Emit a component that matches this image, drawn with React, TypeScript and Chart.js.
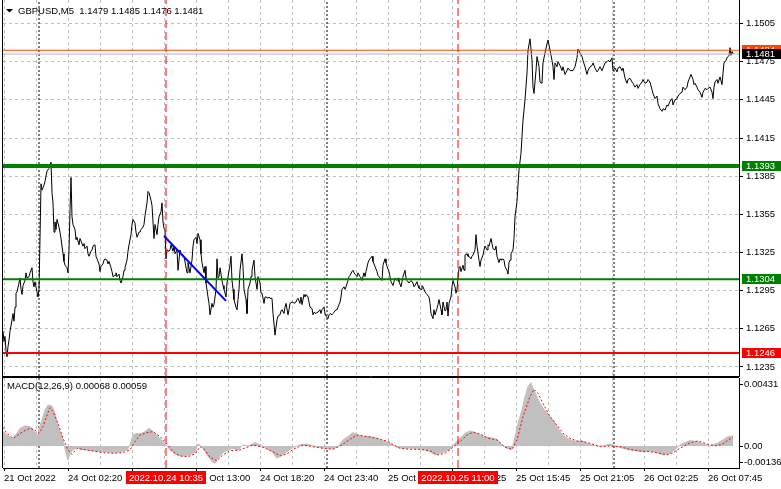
import React, { useEffect, useRef } from 'react';
import { Chart, registerables } from 'chart.js';

Chart.register(...registerables);

const FONT = '"Liberation Sans", Arial, sans-serif';
const FS = 9.5;
const W = 781;
const MAIN_H = 377;
const MACD_H = 112;

// ---------- header ----------
const symbolTitle = 'GBPUSD,M5';
const ohlc = ['1.1479', '1.1485', '1.1476', '1.1481'];

// ---------- price series (bar number from left edge, close) ----------
const priceBars = [
  -1, 0, 1, 2, 3, 4, 5, 6, 8, 9,
  10, 11, 12, 13, 15, 16, 17, 18, 19, 21,
  22, 23, 25, 26, 28, 29, 30, 31, 33, 34,
  35, 36, 37, 38, 40, 41, 42, 43, 45, 46,
  47, 48, 49, 50, 51, 52, 53, 55, 56, 57,
  59, 60, 61, 63, 64, 65, 66, 67, 68, 69,
  71, 72, 73, 75, 76, 77, 79, 80, 81, 83,
  84, 85, 87, 88, 89, 91, 92, 93, 95, 96,
  97, 99, 100, 101, 103, 104, 105, 107, 108, 109,
  111, 112, 113, 115, 116, 117, 119, 120, 121, 123,
  124, 125, 127, 128, 129, 131, 132, 133, 135, 136,
  137, 139, 140, 141, 143, 144, 145, 147, 148, 149,
  150, 151, 153, 154, 155, 157, 158, 159, 160, 161,
  162, 163, 165, 166, 167, 169, 170, 171, 173, 174,
  175, 176, 177, 179, 180, 183, 184, 186, 188, 189,
  190, 192, 193, 194, 196, 197, 198, 200, 201, 202,
  204, 205, 206, 208, 209, 210, 212, 213, 214, 215,
  216, 218, 219, 220, 222, 223, 224, 226, 227, 228,
  229, 230, 232, 233, 234, 235, 236, 238, 239, 240,
  242, 243, 244, 246, 247, 248, 250, 251, 252, 253,
  254, 256, 257, 258, 260, 261, 262, 264, 265, 266,
  268, 269, 270, 271, 273, 274, 276, 277, 278, 280,
  281, 282, 284, 285, 286, 288, 289, 290, 292, 293,
  294, 296, 297, 298, 300, 301, 302, 304, 305, 306,
  308, 309, 310, 312, 313, 314, 316, 317, 318, 320,
  321, 322, 324, 325, 326, 328, 329, 330, 332, 333,
  334, 336, 337, 338, 340, 341, 342, 344, 345, 346,
  348, 349, 350, 352, 353, 354, 356, 357, 358, 360,
  361, 362, 364, 365, 366, 368, 369, 371, 373, 374,
  376, 378, 379, 381, 382, 383, 385, 386, 387, 389,
  390, 391, 393, 394, 395, 397, 398, 399, 401, 402,
  403, 405, 406, 407, 409, 410, 411, 413, 414, 415,
  417, 418, 419, 421, 422, 423, 425, 426, 427, 429,
  430, 431, 433, 434, 435, 437, 438, 439, 441, 442,
  443, 444, 445, 447, 448, 449, 451, 452, 453, 455,
  456, 457, 459, 460, 461, 463, 464, 465, 467, 468,
  469, 471, 472, 473, 475, 476, 477, 479, 480, 481,
  483, 484, 485, 487, 488, 489, 491, 492, 493, 495,
  496, 497, 499, 500, 501, 503, 504, 505, 506, 507,
  509, 510, 511, 513, 514, 515, 517, 518, 519, 521,
  523, 524, 526, 528, 529, 530, 532, 533, 535, 536,
  538, 539, 541, 543, 544, 546, 548, 549, 550, 551,
  553, 554, 556, 558, 559, 561, 563, 564, 566, 569,
  571, 573, 574, 576, 578, 579, 581, 583, 584, 586,
  588, 589, 591, 593, 594, 596, 598, 599, 601, 603,
  604, 606, 608, 609, 611, 613, 614, 616, 618, 619,
  621, 623, 624, 626, 628, 629, 631, 633, 634, 636,
  638, 639, 641, 643, 644, 646, 648, 649, 651, 653,
  654, 656, 658, 659, 661, 663, 664, 666, 668, 669,
  671, 673, 674, 676, 678, 679, 681, 683, 684, 686,
  687, 689, 690, 691, 693, 694, 696, 698, 699, 701,
  703, 704, 706, 708, 709, 710, 711, 713, 714, 716,
  718, 719, 720, 722, 723, 725, 726, 727, 728, 729,
];
const closes = [
  1.1263, 1.1255, 1.1259, 1.1248, 1.1243, 1.1251, 1.1256, 1.1263, 1.1272, 1.1277,
  1.1271, 1.1282, 1.1293, 1.1294, 1.1301, 1.1305, 1.1296, 1.1292, 1.1299, 1.1303,
  1.1309, 1.1305, 1.1306, 1.1309, 1.1313, 1.1302, 1.1298, 1.1302, 1.1294, 1.1290,
  1.1296, 1.1336, 1.1379, 1.1374, 1.1378, 1.1381, 1.1385, 1.1389, 1.1391, 1.1394,
  1.1396, 1.1372, 1.1364, 1.1341, 1.1349, 1.1343, 1.1351, 1.1345, 1.1341, 1.1336,
  1.1324, 1.1318, 1.1315, 1.1313, 1.1309, 1.1327, 1.1358, 1.1384, 1.1353, 1.1347,
  1.1343, 1.1335, 1.1337, 1.1331, 1.1336, 1.1334, 1.1330, 1.1332, 1.1328, 1.1330,
  1.1324, 1.1322, 1.1326, 1.1327, 1.1330, 1.1331, 1.1322, 1.1320, 1.1316, 1.1310,
  1.1314, 1.1316, 1.1319, 1.1320, 1.1319, 1.1316, 1.1318, 1.1313, 1.1310, 1.1306,
  1.1307, 1.1309, 1.1306, 1.1308, 1.1303, 1.1301, 1.1306, 1.1311, 1.1313, 1.1319,
  1.1326, 1.1331, 1.1339, 1.1347, 1.1351, 1.1348, 1.1341, 1.1337, 1.1341, 1.1341,
  1.1343, 1.1345, 1.1347, 1.1354, 1.1364, 1.1373, 1.1372, 1.1366, 1.1362, 1.1349,
  1.1336, 1.1347, 1.1339, 1.1347, 1.1353, 1.1357, 1.1364, 1.1349, 1.1344, 1.1343,
  1.1320, 1.1327, 1.1326, 1.1327, 1.1331, 1.1326, 1.1330, 1.1324, 1.1327, 1.1311,
  1.1319, 1.1327, 1.1324, 1.1323, 1.1322, 1.1309, 1.1317, 1.1309, 1.1319, 1.1330,
  1.1335, 1.1337, 1.1332, 1.1340, 1.1335, 1.1324, 1.1317, 1.1309, 1.1314, 1.1301,
  1.1290, 1.1285, 1.1276, 1.1285, 1.1282, 1.1284, 1.1296, 1.1320, 1.1305, 1.1306,
  1.1313, 1.1303, 1.1299, 1.1296, 1.1290, 1.1301, 1.1306, 1.1315, 1.1322, 1.1303,
  1.1296, 1.1288, 1.1282, 1.1280, 1.1288, 1.1296, 1.1311, 1.1324, 1.1314, 1.1296,
  1.1288, 1.1277, 1.1296, 1.1301, 1.1306, 1.1311, 1.1319, 1.1306, 1.1301, 1.1296,
  1.1306, 1.1301, 1.1293, 1.1293, 1.1285, 1.1290, 1.1290, 1.1289, 1.1290, 1.1289,
  1.1289, 1.1277, 1.1269, 1.1260, 1.1272, 1.1275, 1.1276, 1.1279, 1.1280, 1.1277,
  1.1282, 1.1285, 1.1276, 1.1280, 1.1285, 1.1286, 1.1286, 1.1285, 1.1286, 1.1288,
  1.1289, 1.1285, 1.1290, 1.1284, 1.1292, 1.1290, 1.1292, 1.1290, 1.1286, 1.1282,
  1.1281, 1.1276, 1.1278, 1.1277, 1.1278, 1.1278, 1.1280, 1.1277, 1.1280, 1.1282,
  1.1277, 1.1275, 1.1273, 1.1276, 1.1277, 1.1276, 1.1277, 1.1278, 1.1280, 1.1280,
  1.1282, 1.1286, 1.1290, 1.1296, 1.1298, 1.1296, 1.1298, 1.1303, 1.1306, 1.1307,
  1.1310, 1.1311, 1.1309, 1.1307, 1.1306, 1.1309, 1.1306, 1.1305, 1.1303, 1.1309,
  1.1306, 1.1310, 1.1317, 1.1319, 1.1320, 1.1322, 1.1318, 1.1314, 1.1310, 1.1307,
  1.1305, 1.1303, 1.1315, 1.1320, 1.1317, 1.1314, 1.1310, 1.1306, 1.1302, 1.1299,
  1.1302, 1.1305, 1.1303, 1.1305, 1.1302, 1.1298, 1.1302, 1.1306, 1.1311, 1.1305,
  1.1303, 1.1301, 1.1302, 1.1303, 1.1301, 1.1298, 1.1299, 1.1302, 1.1299, 1.1297,
  1.1296, 1.1299, 1.1298, 1.1294, 1.1293, 1.1292, 1.1290, 1.1285, 1.1277, 1.1273,
  1.1280, 1.1276, 1.1281, 1.1284, 1.1288, 1.1280, 1.1276, 1.1286, 1.1279, 1.1280,
  1.1286, 1.1275, 1.1285, 1.1290, 1.1298, 1.1303, 1.1298, 1.1293, 1.1296, 1.1313,
  1.1314, 1.1310, 1.1315, 1.1311, 1.1323, 1.1324, 1.1322, 1.1322, 1.1320, 1.1322,
  1.1323, 1.1327, 1.1339, 1.1330, 1.1319, 1.1314, 1.1319, 1.1323, 1.1327, 1.1330,
  1.1327, 1.1331, 1.1330, 1.1336, 1.1332, 1.1328, 1.1327, 1.1330, 1.1322, 1.1317,
  1.1320, 1.1319, 1.1320, 1.1319, 1.1314, 1.1311, 1.1308, 1.1317, 1.1319, 1.1324,
  1.1327, 1.1336, 1.1353, 1.1365, 1.1378, 1.1390, 1.1403, 1.1416, 1.1429, 1.1445,
  1.1466, 1.1484, 1.1493, 1.1476, 1.1455, 1.1450, 1.1468, 1.1479, 1.1471, 1.1459,
  1.1458, 1.1474, 1.1482, 1.1489, 1.1492, 1.1484, 1.1476, 1.1471, 1.1461, 1.1474,
  1.1471, 1.1475, 1.1472, 1.1468, 1.1471, 1.1465, 1.1468, 1.1470, 1.1468, 1.1468,
  1.1471, 1.1478, 1.1485, 1.1482, 1.1479, 1.1476, 1.1471, 1.1465, 1.1468, 1.1471,
  1.1472, 1.1474, 1.1470, 1.1467, 1.1468, 1.1471, 1.1468, 1.1470, 1.1474, 1.1475,
  1.1476, 1.1475, 1.1478, 1.1468, 1.1470, 1.1467, 1.1470, 1.1471, 1.1468, 1.1470,
  1.1462, 1.1458, 1.1461, 1.1462, 1.1459, 1.1458, 1.1455, 1.1457, 1.1454, 1.1457,
  1.1459, 1.1461, 1.1458, 1.1459, 1.1461, 1.1459, 1.1453, 1.1450, 1.1446, 1.1448,
  1.1442, 1.1438, 1.1436, 1.1438, 1.1437, 1.1441, 1.1440, 1.1444, 1.1446, 1.1441,
  1.1445, 1.1446, 1.1448, 1.1450, 1.1451, 1.1455, 1.1453, 1.1455, 1.1459, 1.1463,
  1.1465, 1.1461, 1.1457, 1.1458, 1.1455, 1.1453, 1.1451, 1.1447, 1.1451, 1.1454,
  1.1453, 1.1454, 1.1455, 1.1451, 1.1446, 1.1455, 1.1459, 1.1461, 1.1458, 1.1463,
  1.1457, 1.1466, 1.1474, 1.1476, 1.1478, 1.1480, 1.1486, 1.1480, 1.1483, 1.1481,
];

// ---------- MACD(12,26,9) ----------
const macdBars = [
  -1, 3, 8, 13, 16, 21, 26, 31, 34, 35,
  38, 41, 44, 48, 51, 54, 58, 60, 63, 64,
  66, 69, 73, 76, 83, 89, 96, 103, 109, 116,
  123, 126, 129, 133, 136, 141, 145, 149, 154, 159,
  163, 166, 173, 179, 186, 191, 194, 198, 203, 208,
  211, 214, 219, 224, 229, 234, 239, 244, 251, 256,
  263, 268, 273, 278, 283, 289, 296, 303, 309, 316,
  323, 329, 334, 339, 344, 349, 354, 359, 366, 373,
  379, 384, 393, 399, 406, 413, 419, 426, 431, 436,
  441, 446, 451, 456, 461, 466, 471, 476, 481, 486,
  493, 498, 503, 508, 511, 514, 518, 521, 524, 527,
  529, 533, 536, 539, 543, 546, 549, 553, 556, 559,
  563, 568, 573, 578, 583, 588, 593, 599, 606, 611,
  619, 626, 633, 639, 646, 653, 659, 666, 671, 676,
  681, 686, 693, 699, 706, 713, 719, 724, 729,
];
const macdMain = [
  0.00098, 0.00075, 0.00052, 0.00086, 0.00120, 0.00136, 0.00132, 0.00098, 0.00064, 0.00120,
  0.00177, 0.00245, 0.00279, 0.00272, 0.00222, 0.00132, 0.00064, 0.00007, -0.00073, -0.00095,
  -0.00050, -0.00027, -0.00009, -0.00023, -0.00027, -0.00032, -0.00039, -0.00039, -0.00045, -0.00041,
  -0.00027, 0.00007, 0.00075, 0.00086, 0.00082, 0.00098, 0.00120, 0.00098, 0.00064, 0.00030,
  0.00000, -0.00027, -0.00061, -0.00068, -0.00061, -0.00039, 0.00014, -0.00005, -0.00061, -0.00107,
  -0.00118, -0.00084, -0.00045, -0.00027, -0.00016, -0.00027, 0.00007, 0.00000, 0.00023, 0.00007,
  -0.00016, -0.00039, -0.00084, -0.00061, -0.00039, -0.00009, 0.00007, 0.00014, 0.00000, -0.00009,
  -0.00016, -0.00018, -0.00005, 0.00041, 0.00064, 0.00091, 0.00075, 0.00064, 0.00064, 0.00052,
  0.00036, 0.00023, -0.00009, -0.00016, -0.00014, -0.00018, -0.00023, -0.00039, -0.00061, -0.00050,
  -0.00039, -0.00023, 0.00018, 0.00052, 0.00086, 0.00102, 0.00093, 0.00075, 0.00064, 0.00057,
  0.00045, 0.00007, -0.00016, -0.00023, 0.00064, 0.00154, 0.00245, 0.00336, 0.00404, 0.00431,
  0.00393, 0.00336, 0.00291, 0.00257, 0.00227, 0.00200, 0.00177, 0.00132, 0.00098, 0.00075,
  0.00052, 0.00036, 0.00030, 0.00036, 0.00018, 0.00007, 0.00000, 0.00000, 0.00014, 0.00000,
  -0.00016, -0.00027, -0.00034, -0.00039, -0.00034, -0.00045, -0.00061, -0.00050, -0.00023, 0.00007,
  0.00023, 0.00036, 0.00030, 0.00014, 0.00000, 0.00018, 0.00041, 0.00064, 0.00068,
];
const signalBars = [
  -1, 3, 9, 14, 19, 26, 31, 35, 39, 43,
  46, 49, 54, 59, 64, 68, 73, 79, 89, 99,
  109, 119, 126, 131, 136, 143, 149, 156, 163, 169,
  176, 184, 191, 196, 201, 206, 213, 219, 226, 236,
  243, 249, 259, 269, 276, 283, 289, 299, 309, 319,
  329, 338, 346, 353, 363, 373, 384, 396, 406, 416,
  426, 434, 441, 449, 456, 463, 469, 476, 484, 493,
  501, 508, 513, 519, 526, 530, 534, 539, 546, 553,
  559, 566, 573, 579, 586, 596, 606, 616, 626, 636,
  646, 656, 663, 669, 676, 686, 694, 703, 711, 719,
  724, 729,
];
const signalVals = [
  0.00127, 0.00086, 0.00052, 0.00075, 0.00098, 0.00120, 0.00109, 0.00086, 0.00132, 0.00211,
  0.00261, 0.00234, 0.00154, 0.00052, -0.00027, -0.00057, -0.00016, -0.00023, -0.00034, -0.00045,
  -0.00050, -0.00045, -0.00027, 0.00030, 0.00075, 0.00091, 0.00098, 0.00064, 0.00014, -0.00039,
  -0.00068, -0.00073, -0.00054, -0.00005, -0.00027, -0.00077, -0.00100, -0.00061, -0.00032, -0.00027,
  -0.00009, 0.00007, -0.00009, -0.00039, -0.00068, -0.00054, -0.00023, 0.00007, -0.00005, -0.00016,
  -0.00023, 0.00007, 0.00045, 0.00075, 0.00064, 0.00052, 0.00030, -0.00016, -0.00023, -0.00023,
  -0.00032, -0.00061, -0.00050, -0.00009, 0.00030, 0.00075, 0.00093, 0.00082, 0.00052, 0.00041,
  -0.00009, -0.00023, 0.00041, 0.00200, 0.00336, 0.00386, 0.00359, 0.00291, 0.00200, 0.00143,
  0.00086, 0.00052, 0.00034, 0.00030, 0.00018, -0.00005, 0.00000, -0.00005, -0.00023, -0.00034,
  -0.00039, -0.00050, -0.00061, -0.00045, -0.00016, 0.00023, 0.00034, 0.00014, 0.00000, 0.00014,
  0.00041, 0.00059,
];

// ---------- scales ----------
const priceMin = 1.12279;
const priceMax = 1.15235;
const priceTicks = [1.1235, 1.1265, 1.1295, 1.1325, 1.1355, 1.1385, 1.1415, 1.1445, 1.1475, 1.1505];
const macdMin = -0.0015;
const macdMax = 0.00463;
const macdScaleValues = [0.00431, 0, -0.00136];
const macdScaleLabels = ['0.00431', '0.00', '-0.00136'];
const barMin = -1;
const barMax = 735;
const gridBars = [0, 32, 64, 96, 128, 160, 192, 224, 256, 288, 320, 352, 384, 416, 448, 480, 512, 544, 576, 608, 640, 672, 704];
const labelEvery = 64;
const timeLabels = [
  '21 Oct 2022', '24 Oct 02:20', '24 Oct 07:40', '24 Oct 13:00', '24 Oct 18:20', '24 Oct 23:40',
  '25 Oct 05:05', '25 Oct 10:25', '25 Oct 15:45', '25 Oct 21:05', '26 Oct 02:25', '26 Oct 07:45',
];

// ---------- objects on the chart ----------
const separatorBars = [35, 323, 610];
const markerBars = [162, 454];
const markerLabels = ['2022.10.24 10:35', '2022.10.25 11:00'];
const levelPrices = [1.1393, 1.1304, 1.1246];
const levelColors = ['#008000', '#008000', '#ff0000'];
const levelWidths = [4, 2, 2];
const bidPrice = 1.1481;
const askPrice = 1.1484;
const trendBars = [160, 222];
const trendPrices = [1.1338, 1.1287];

const whiteBg = {
  id: 'whiteBg',
  beforeDraw(chart: any) {
    const { ctx } = chart;
    ctx.save();
    ctx.fillStyle = '#ffffff';
    ctx.fillRect(0, 0, chart.width, chart.height);
    ctx.restore();
  },
};

const mainDecor = {
  id: 'mainDecor',
  afterDraw(chart: any) {
    const { ctx, chartArea: a, scales } = chart;
    const y = scales.y;
    ctx.save();
    ctx.strokeStyle = '#000';
    ctx.lineWidth = 1;
    ctx.beginPath();
    ctx.moveTo(a.left - 0.5, 0);
    ctx.lineTo(a.left - 0.5, a.bottom + 1);
    ctx.stroke();
    // title
    ctx.fillStyle = '#000';
    ctx.beginPath();
    ctx.moveTo(6, 9);
    ctx.lineTo(13, 9);
    ctx.lineTo(9.5, 12.5);
    ctx.closePath();
    ctx.fill();
    ctx.font = `${FS}px ${FONT}`;
    ctx.textAlign = 'left';
    ctx.textBaseline = 'alphabetic';
    ctx.fillText(`${symbolTitle}  ${ohlc.join(' ')}`, 18, 14);
    // price tags on the axis
    const tags = [
      { v: askPrice, bg: '#ff4500' },
      { v: bidPrice, bg: '#000000' },
      ...levelPrices.map((v, i) => ({ v, bg: levelColors[i] })),
    ];
    ctx.textBaseline = 'middle';
    for (const t of tags) {
      const py = Math.round(y.getPixelForValue(t.v));
      ctx.fillStyle = t.bg;
      ctx.fillRect(a.right + 3, py - 5, W - a.right - 3, 10);
      ctx.fillStyle = '#ffffff';
      ctx.fillText(t.v.toFixed(4), a.right + 7, py + 0.5);
    }
    ctx.restore();
  },
};

const macdDecor = {
  id: 'macdDecor',
  afterDraw(chart: any) {
    const { ctx, chartArea: a, scales } = chart;
    const y = scales.y;
    const x = scales.x;
    ctx.save();
    ctx.strokeStyle = '#000';
    ctx.lineWidth = 1;
    ctx.beginPath();
    ctx.moveTo(a.left - 1, 0.5);
    ctx.lineTo(a.right, 0.5);
    ctx.moveTo(a.left - 0.5, 0);
    ctx.lineTo(a.left - 0.5, a.bottom);
    ctx.stroke();
    ctx.font = `${FS}px ${FONT}`;
    ctx.fillStyle = '#000';
    ctx.textAlign = 'left';
    ctx.textBaseline = 'alphabetic';
    const lastMain = macdMain[macdMain.length - 1].toFixed(5);
    const lastSig = signalVals[signalVals.length - 1].toFixed(5);
    ctx.fillText(`MACD(12,26,9) ${lastMain} ${lastSig}`, 7, 12);
    // right scale labels
    ctx.textBaseline = 'middle';
    macdScaleValues.forEach((v, i) => {
      const raw = y.getPixelForValue(v);
      const py = Math.min(Math.max(raw, a.top + 6), a.bottom - 6);
      ctx.beginPath();
      ctx.moveTo(a.right, Math.round(py) + 0.5);
      ctx.lineTo(a.right + 4, Math.round(py) + 0.5);
      ctx.stroke();
      ctx.fillText(macdScaleLabels[i], a.right + 5, py);
    });
    // vertical-line date boxes on the time axis
    ctx.textAlign = 'center';
    markerBars.forEach((b, i) => {
      const px = x.getPixelForValue(b);
      ctx.fillStyle = '#ff0000';
      ctx.fillRect(Math.round(px) - 40, a.bottom + 3, 80, 13);
      ctx.fillStyle = '#ffffff';
      ctx.fillText(markerLabels[i], px, a.bottom + 10);
    });
    ctx.restore();
  },
};

const vLine = (bar: number, lo: number, hi: number, color: string, dash: number[], order: number) => ({
  data: [{ x: bar, y: lo }, { x: bar, y: hi }],
  borderColor: color,
  borderWidth: 1,
  borderDash: dash,
  pointRadius: 0,
  order,
});

function mainConfig(): any {
  const datasets: any[] = [
    {
      data: trendBars.map((b, i) => ({ x: b, y: trendPrices[i] })),
      borderColor: '#0000ff',
      borderWidth: 2,
      pointRadius: 0,
      order: 0,
    },
    ...levelPrices.map((v, i) => ({
      data: [{ x: barMin, y: v }, { x: barMax, y: v }],
      borderColor: levelColors[i],
      borderWidth: levelWidths[i],
      pointRadius: 0,
      order: 1,
    })),
    {
      data: [{ x: barMin, y: askPrice }, { x: barMax, y: askPrice }],
      borderColor: '#ff4500',
      borderWidth: 1,
      pointRadius: 0,
      order: 1,
    },
    {
      data: [{ x: barMin, y: bidPrice }, { x: barMax, y: bidPrice }],
      borderColor: '#b4b4b4',
      borderWidth: 1,
      pointRadius: 0,
      order: 1,
    },
    ...markerBars.map((b) => vLine(b, priceMin, priceMax, '#ff0000', [8, 4], 2)),
    ...separatorBars.map((b) => vLine(b, priceMin, priceMax, '#000000', [2, 2], 4)),
    {
      data: priceBars.map((b, i) => ({ x: b, y: closes[i] })),
      borderColor: '#000000',
      borderWidth: 1,
      pointRadius: 0,
      borderJoinStyle: 'round',
      tension: 0,
      order: 3,
    },
  ];
  return {
    type: 'line',
    data: { datasets },
    plugins: [whiteBg, mainDecor],
    options: {
      animation: false,
      responsive: false,
      devicePixelRatio: 1,
      events: [],
      layout: { padding: { left: 3, right: 0, top: 0, bottom: 0 } },
      plugins: { legend: { display: false }, tooltip: { enabled: false }, title: { display: false } },
      scales: {
        x: {
          type: 'linear',
          min: barMin,
          max: barMax,
          afterBuildTicks: (s: any) => { s.ticks = gridBars.map((v) => ({ value: v })); },
          afterFit: (s: any) => { s.height = 1; s.paddingLeft = 0; s.paddingRight = 0; },
          ticks: { display: false },
          grid: { color: '#c0c0c0', lineWidth: 1, drawTicks: false },
          border: { display: true, color: '#000', width: 1, dash: [3, 3] },
        },
        y: {
          position: 'right',
          min: priceMin,
          max: priceMax,
          afterBuildTicks: (s: any) => { s.ticks = priceTicks.map((v) => ({ value: v })); },
          afterFit: (s: any) => { s.width = 42; s.paddingTop = 0; s.paddingBottom = 0; },
          ticks: {
            color: '#000',
            font: { family: FONT, size: FS },
            padding: 3,
            callback: (v: any) => Number(v).toFixed(4),
          },
          grid: { color: '#c0c0c0', lineWidth: 1, drawTicks: true, tickLength: 4, tickColor: '#000', tickBorderDash: [] },
          border: { display: true, color: '#000', width: 1, dash: [3, 3] },
        },
      },
    },
  };
}

function macdConfig(): any {
  const datasets: any[] = [
    {
      data: signalBars.map((b, i) => ({ x: b, y: signalVals[i] })),
      borderColor: '#ff0000',
      borderWidth: 1,
      borderDash: [2, 2],
      pointRadius: 0,
      order: 0,
    },
    ...markerBars.map((b) => vLine(b, macdMin, macdMax, '#ff0000', [8, 4], 1)),
    {
      data: macdBars.map((b, i) => ({ x: b, y: macdMain[i] })),
      borderColor: '#c0c0c0',
      backgroundColor: '#c0c0c0',
      borderWidth: 1,
      fill: 'origin',
      pointRadius: 0,
      tension: 0,
      order: 2,
    },
    ...separatorBars.map((b) => vLine(b, macdMin, macdMax, '#000000', [2, 2], 3)),
  ];
  return {
    type: 'line',
    data: { datasets },
    plugins: [whiteBg, macdDecor],
    options: {
      animation: false,
      responsive: false,
      devicePixelRatio: 1,
      events: [],
      layout: { padding: { left: 3, right: 0, top: 1, bottom: 0 } },
      plugins: { legend: { display: false }, tooltip: { enabled: false }, title: { display: false } },
      scales: {
        x: {
          type: 'linear',
          min: barMin,
          max: barMax,
          afterBuildTicks: (s: any) => { s.ticks = gridBars.map((v) => ({ value: v })); },
          afterFit: (s: any) => { s.height = 21; s.paddingLeft = 0; s.paddingRight = 0; },
          ticks: {
            autoSkip: false,
            maxRotation: 0,
            minRotation: 0,
            align: 'start',
            padding: 2,
            color: '#000',
            font: { family: FONT, size: FS },
            callback: (v: any) => (Number(v) % labelEvery === 0 ? timeLabels[Number(v) / labelEvery] : ''),
          },
          grid: {
            color: '#c0c0c0',
            lineWidth: 1,
            drawTicks: true,
            tickLength: 3,
            tickBorderDash: [],
            tickColor: (c: any) => (c.tick && c.tick.value % labelEvery === 0 ? '#000' : 'rgba(0,0,0,0)'),
          },
          border: { display: true, color: '#000', width: 1, dash: [3, 3] },
        },
        y: {
          position: 'right',
          min: macdMin,
          max: macdMax,
          afterFit: (s: any) => { s.width = 42; s.paddingTop = 0; s.paddingBottom = 0; },
          ticks: { display: false },
          grid: { display: false },
          border: { display: true, color: '#000', width: 1 },
        },
      },
    },
  };
}

export default function App() {
  const mainRef = useRef<HTMLCanvasElement>(null);
  const macdRef = useRef<HTMLCanvasElement>(null);
  useEffect(() => {
    document.body.style.margin = '0';
    const c1 = new Chart(mainRef.current as HTMLCanvasElement, mainConfig());
    const c2 = new Chart(macdRef.current as HTMLCanvasElement, macdConfig());
    return () => {
      c1.destroy();
      c2.destroy();
    };
  }, []);
  return (
    <div style={{ position: 'relative', width: W, height: MAIN_H + MACD_H, background: '#fff', overflow: 'hidden' }}>
      <style>{'body{margin:0}'}</style>
      <canvas
        ref={mainRef}
        width={W}
        height={MAIN_H}
        style={{ position: 'absolute', left: 0, top: 0, width: W, height: MAIN_H }}
      />
      <canvas
        ref={macdRef}
        width={W}
        height={MACD_H}
        style={{ position: 'absolute', left: 0, top: MAIN_H, width: W, height: MACD_H }}
      />
    </div>
  );
}
